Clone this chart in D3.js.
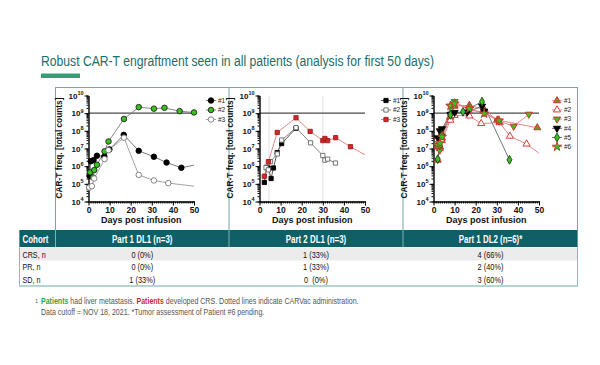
<!DOCTYPE html>
<html><head><meta charset="utf-8">
<script src="https://cdn.jsdelivr.net/npm/d3@7"></script>
<style>body{margin:0;background:#fff}svg{display:block}</style>
</head><body>
<svg id="c" width="600" height="365"></svg>
<script>
// ---------------- DATA ----------------
const titleText = "Robust CAR-T engraftment seen in all patients (analysis for first 50 days)";
const xTicks = [0, 10, 20, 30, 40, 50];
const yTicks = [1e4, 1e5, 1e6, 1e7, 1e8, 1e9, 1e10];
const refLevel = 1e9;
const seriesNames = ["#1", "#2", "#3", "#4", "#5", "#6"];

// Panel 1: Part 1 DL1  [day, total counts]
const p1_s1 = [[0.5,2.8e5],[1.1,1.9e6],[2.4,2.2e6],[4.0,3.9e6],[7.5,3.5e6],[9.9,8.9e6],[16.7,5.9e7],[23.8,7.4e6],[31,3.4e6],[37,1.6e6],[44,8.1e5]];
const p1_s1_tail = [[44,8.1e5],[50,1.15e6]];
const p1_s2 = [[0.8,4.5e5],[2.1,2.3e5],[2.7,6.0e5],[4.0,1.2e6],[7.6,6.9e6],[9.5,2.5e7],[16.8,4.7e8],[23.8,2.2e9],[31,1.8e9],[36,2.0e9],[43.2,1.3e9],[50,1.1e9]];
const p1_s3 = [[0.3,6.2e4],[1.6,7.4e4],[2.7,2.0e5],[7.6,2.5e6],[9.5,8.0e6],[16.8,4.1e7],[23.8,3.2e5],[31,1.55e5],[37.8,1.1e5]];
const p1_s3_tail = [[37.8,1.1e5],[50,7.4e4]];

// Panel 2: Part 2 DL1
const p2_s1 = [[2.3,1.2e5],[3.4,8.7e5],[4.2,7.6e5],[5.5,2.0e5],[6.6,7.9e5],[8.4,5.9e6],[10.5,1.9e7],[17.3,1.4e8]];
const p2_s2 = [[3.1,8.3e5],[4.2,6.2e5],[5.2,1.8e6],[8.4,4.9e6],[10.5,3.0e7],[17.3,1.5e8],[24.2,2.1e7],[30,4.0e6],[31,2.2e6],[32.3,2.5e6],[36,1.5e6]];
const p2_s3 = [[2.3,2.7e5],[4.2,1.8e6],[8.4,8.1e7],[17.3,5.5e8],[24,9.3e7],[30,2.8e7],[31,3.7e7],[32.3,2.8e7],[36.1,4.1e7],[43.1,1.26e7]];
const p2_s3_tail = [[43.1,1.26e7],[50,4.4e6]];
const p2_carvacDays = [4.5, 30];

// Panel 3: Part 1 DL2
const p3_s1 = [[2,2.2e6],[3,1.2e7],[4,4.0e7],[8,6.0e8],[10,2.5e9],[17,2.8e9],[24,1.6e9],[30.2,4.1e8],[49.2,1.5e8]];
const p3_s2 = [[2,1.3e7],[3,1.0e7],[4,2.8e7],[8,4.0e8],[10,7.5e8],[17,7.0e8],[22.6,2.6e8],[31.4,2.9e8],[36.2,5.0e7],[44.1,1.8e7]];
const p3_s2_tail = [[44.1,1.8e7],[50,5.4e6]];
const p3_s3 = [[2,1.5e7],[3,8.0e6],[4,5.0e7],[8,2.5e9],[10,4.5e9],[17,1.5e9],[24,1.1e9],[31,3.6e8],[38,1.8e8],[45.2,8.7e8]];
const p3_s4 = [[2,4.0e7],[3,1.0e8],[4,1.3e8],[8,8.5e8],[10,1.1e9],[16,1.15e9],[23,2.5e9],[24,1.3e9]];
const p3_s5 = [[2,2.5e6],[3,1.5e7],[4,6.0e7],[8,8.0e8],[14,1.2e9],[23,4.5e9],[36,2.3e6]];
const p3_s6 = [[2,1.5e7],[3,2.0e7],[4,4.5e7],[8,2.6e9],[10,3.5e9],[17,1.8e9],[24,9.5e8],[31,3.8e8]];

// Table
const cohortHeader = "Cohort";
const cohorts = ["Part 1 DL1 (n=3)", "Part 2 DL1 (n=3)", "Part 1 DL2 (n=6)*"];
const rowLabels = ["CRS, n", "PR, n", "SD, n"];
const crsVals = ["0 (0%)", "1 (33%)", "4 (66%)"];
const prVals = ["0 (0%)", "1 (33%)", "2 (40%)"];
const sdVals = ["1 (33%)", "0  (0%)", "3 (60%)"];
const footLine2 = "Data cutoff = NOV 18, 2021. *Tumor assessment of Patient #6 pending.";

// ---------------- STYLES ----------------
const SANS = "'Liberation Sans',Arial,Helvetica,sans-serif";
const TEAL = "#0f5f66";
const BORDER = "#6fa9a8";
const GREEN = "#39c21f";
const RED = "#cf2a2a";
const LRED = "#e07a7a";

const svg = d3.select("#c");

// condensed text helper (horizontal compression of Liberation Sans)
function ctext(parent, x, y, str, size, opts = {}) {
  const f = opts.factor || 0.8;
  const t = parent.append("text")
    .attr("transform", `translate(${x},${y}) scale(${f},1)`)
    .attr("text-anchor", opts.anchor || "start")
    .attr("font-family", SANS).attr("font-size", size)
    .attr("font-weight", opts.weight || "normal")
    .attr("fill", opts.fill || "#111")
    .attr("xml:space", "preserve");
  if (str !== null) t.text(str);
  return t;
}

// Title
svg.append("text").attr("x", 41).attr("y", 66).text(titleText)
  .attr("font-family", SANS).attr("font-size", 15.5).attr("fill", "#1b6d6b")
  .attr("textLength", 393).attr("lengthAdjust", "spacingAndGlyphs");
svg.append("rect").attr("x", 41).attr("y", 73.5).attr("width", 39).attr("height", 4.5).attr("fill", "#3d9a72");

// panel frame lines
svg.append("line").attr("x1", 55).attr("x2", 578).attr("y1", 87.5).attr("y2", 87.5).attr("stroke", BORDER).attr("stroke-width", 1);
[55.5, 229, 403, 577.5].forEach(xx => svg.append("line").attr("x1", xx).attr("x2", xx).attr("y1", 87.5).attr("y2", 230).attr("stroke", BORDER).attr("stroke-width", 1));

const sym = {
  circle: d3.symbolCircle, square: d3.symbolSquare, triUp: d3.symbolTriangle,
  triDown: d3.symbolTriangle, diamond: d3.symbolDiamond, star: d3.symbolStar
};

const panels = [
  { ax: 88.5, legX: 211, legY0: 100.5, legDy: 9.5,
    series: [
      { data: p1_s1, tail: p1_s1_tail, shape: "circle", fill: "#000", stroke: "#000", line: "#6a6a6a" },
      { data: p1_s2, shape: "circle", fill: GREEN, stroke: "#222", line: "#7a7a7a" },
      { data: p1_s3, tail: p1_s3_tail, shape: "circle", fill: "#fff", stroke: "#777", line: "#999" }
    ] },
  { ax: 259.5, legX: 386, legY0: 100.5, legDy: 9.5, vlines: p2_carvacDays,
    series: [
      { data: p2_s1, shape: "square", fill: "#000", stroke: "#000", line: "#444" },
      { data: p2_s2, shape: "square", fill: "#fff", stroke: "#666", line: "#777" },
      { data: p2_s3, tail: p2_s3_tail, shape: "square", fill: RED, stroke: "#a01818", line: LRED }
    ] },
  { ax: 433.5, legX: 557, legY0: 100.7, legDy: 9.2,
    series: [
      { data: p3_s1, shape: "triUp", fill: "#7a8f2a", stroke: RED, line: LRED },
      { data: p3_s2, tail: p3_s2_tail, shape: "triUp", fill: "#fff", stroke: RED, line: LRED },
      { data: p3_s3, shape: "triDown", fill: GREEN, stroke: RED, line: LRED },
      { data: p3_s4, shape: "triDown", fill: "#000", stroke: "#000", line: "#555" },
      { data: p3_s5, shape: "diamond", fill: GREEN, stroke: "#1a3a1a", line: "#666" },
      { data: p3_s6, shape: "star", fill: GREEN, stroke: RED, line: LRED }
    ] }
];

function marker(g, s, cx, cy) {
  const size = s.shape === "square" ? 18 : s.shape === "star" ? 26 : s.shape === "diamond" ? 22 : s.shape.startsWith("tri") ? 22 : 24;
  g.append("path").attr("d", d3.symbol().type(sym[s.shape]).size(size)())
    .attr("transform", `translate(${cx},${cy})` + (s.shape === "triDown" ? " rotate(180)" : ""))
    .attr("fill", s.fill).attr("stroke", s.stroke).attr("stroke-width", 0.9);
}

panels.forEach(p => {
  const x = d3.scaleLinear().domain([0, 50]).range([p.ax, p.ax + 105.5]);
  const y = d3.scaleLog().domain([1e4, 1e10]).range([201.5, 95.5]);
  const g = svg.append("g");

  (p.vlines || []).forEach(d => g.append("line")
    .attr("x1", x(d)).attr("x2", x(d)).attr("y1", y(1e10)).attr("y2", y(1e4))
    .attr("stroke", "#ececec").attr("stroke-width", 1.5));

  g.append("line").attr("x1", x(0)).attr("x2", x(50)).attr("y1", y(refLevel)).attr("y2", y(refLevel))
    .attr("stroke", "#4a4a4a").attr("stroke-width", 1.1);

  // minor ticks
  const ya = g.append("g").attr("transform", `translate(${x(0)},0)`)
    .call(d3.axisLeft(y).tickValues(y.ticks()).tickSize(2).tickSizeOuter(0).tickFormat(""));
  ya.select(".domain").remove();
  const xa = g.append("g").attr("transform", `translate(0,${y(1e4)})`)
    .call(d3.axisBottom(x).tickValues(d3.range(0, 51, 1)).tickSize(2).tickSizeOuter(0).tickFormat(""));
  xa.select(".domain").remove();
  // major
  g.append("g").attr("transform", `translate(${x(0)},0)`)
    .call(d3.axisLeft(y).tickValues(yTicks).tickSize(4).tickSizeOuter(0).tickFormat(""));
  const xA = g.append("g").attr("transform", `translate(0,${y(1e4)})`)
    .call(d3.axisBottom(x).tickValues(xTicks).tickSize(4).tickSizeOuter(0).tickFormat(d => d));
  g.selectAll(".domain").attr("stroke", "#000").attr("stroke-width", 1.4);
  g.selectAll(".tick line").attr("stroke", "#000").attr("stroke-width", 1);
  xA.selectAll(".tick text").attr("font-family", SANS).attr("font-weight", "bold").attr("font-size", 8.5).attr("fill", "#111").attr("dy", "0.5em");

  yTicks.forEach(v => {
    const t = g.append("text").attr("x", x(0) - 5).attr("y", y(v) + 3)
      .attr("text-anchor", "end").attr("font-family", SANS).attr("font-weight", "bold").attr("fill", "#111");
    t.append("tspan").attr("font-size", 8).text("10");
    t.append("tspan").attr("font-size", 5.5).attr("dy", -3.5).text(String(Math.round(Math.log10(v))));
  });

  g.append("text").attr("transform", `translate(${x(0) - 26.5},${148}) rotate(-90)`)
    .attr("text-anchor", "middle").attr("font-family", SANS).attr("font-weight", "bold")
    .attr("font-size", 8.3).attr("fill", "#111").text("CAR-T freq. [total counts]");
  g.append("text").attr("x", x(25)).attr("y", 223).attr("text-anchor", "middle")
    .attr("font-family", SANS).attr("font-weight", "bold").attr("font-size", 9).attr("fill", "#111")
    .text("Days post infusion");

  const line = d3.line().x(d => x(d[0])).y(d => y(d[1]));
  p.series.forEach(s => {
    g.append("path").attr("d", line(s.data)).attr("fill", "none").attr("stroke", s.line).attr("stroke-width", 0.9);
    if (s.tail) g.append("path").attr("d", line(s.tail)).attr("fill", "none").attr("stroke", s.line).attr("stroke-width", 0.9);
  });
  p.series.forEach(s => s.data.forEach(d => marker(g, s, x(d[0]), y(d[1]))));

  // legend
  p.series.forEach((s, i) => {
    const ly = p.legY0 + i * p.legDy;
    g.append("line").attr("x1", p.legX - 5).attr("x2", p.legX + 5).attr("y1", ly).attr("y2", ly)
      .attr("stroke", s.line).attr("stroke-width", 0.9);
    marker(g, s, p.legX, ly);
    g.append("text").attr("x", p.legX + 7).attr("y", ly + 2.3).attr("font-family", SANS)
      .attr("font-size", 6.5).attr("fill", "#222").text(seriesNames[i]);
  });
});

// ---------------- TABLE ----------------
const tX0 = 19, tX1 = 578, cX = [55.5, 229, 403, 578];
const hY0 = 230, hY1 = 247;
svg.append("rect").attr("x", tX0).attr("y", hY0).attr("width", tX1 - tX0).attr("height", hY1 - hY0).attr("fill", TEAL);
[55.5, 229, 403].forEach(xx => svg.append("line").attr("x1", xx).attr("x2", xx).attr("y1", hY0).attr("y2", hY1).attr("stroke", "#9fc4c6").attr("stroke-width", 0.8));
ctext(svg, 22.5, 242.7, cohortHeader, 11, { weight: "bold", fill: "#fff", factor: 0.72 });
cohorts.forEach((c, i) => ctext(svg, (cX[i] + cX[i + 1]) / 2, 242.7, c, 11, { weight: "bold", fill: "#fff", anchor: "middle", factor: 0.72 }));

const rows = [crsVals, prVals, sdVals];
const rowY = [248, 260.5, 273, 285.5];
svg.append("rect").attr("x", tX0).attr("y", rowY[0]).attr("width", tX1 - tX0).attr("height", rowY[1] - rowY[0]).attr("fill", "#ececec");
rows.forEach((r, j) => {
  const cy = (rowY[j] + rowY[j + 1]) / 2 + 3.3;
  ctext(svg, 22.5, cy, rowLabels[j], 9, { factor: 0.8 });
  r.forEach((v, i) => ctext(svg, (cX[i] + cX[i + 1]) / 2, cy, v, 9, { anchor: "middle", factor: 0.82 }));
});
svg.append("line").attr("x1", tX0).attr("x2", tX1).attr("y1", rowY[3] + 0.5).attr("y2", rowY[3] + 0.5).attr("stroke", BORDER).attr("stroke-width", 1);
svg.append("line").attr("x1", tX0 + 0.5).attr("x2", tX0 + 0.5).attr("y1", hY0).attr("y2", rowY[3]).attr("stroke", BORDER).attr("stroke-width", 0.8);
svg.append("line").attr("x1", tX1 - 0.5).attr("x2", tX1 - 0.5).attr("y1", hY0).attr("y2", rowY[3]).attr("stroke", BORDER).attr("stroke-width", 0.8);

// ---------------- FOOTNOTE ----------------
ctext(svg, 35, 302.5, "1", 5.5, { fill: "#666", factor: 1 });
const fn = ctext(svg, 41, 304, null, 8.3, { fill: "#555", factor: 0.85 });
fn.append("tspan").attr("fill", "#27a84a").attr("font-weight", "bold").text("Patients");
fn.append("tspan").text(" had liver metastasis. ");
fn.append("tspan").attr("fill", "#d11f26").attr("font-weight", "bold").text("Patients");
fn.append("tspan").text(" developed CRS. Dotted lines indicate CARVac administration.");
ctext(svg, 41, 315, footLine2, 8.3, { fill: "#555", factor: 0.85 });
</script>
</body></html>
